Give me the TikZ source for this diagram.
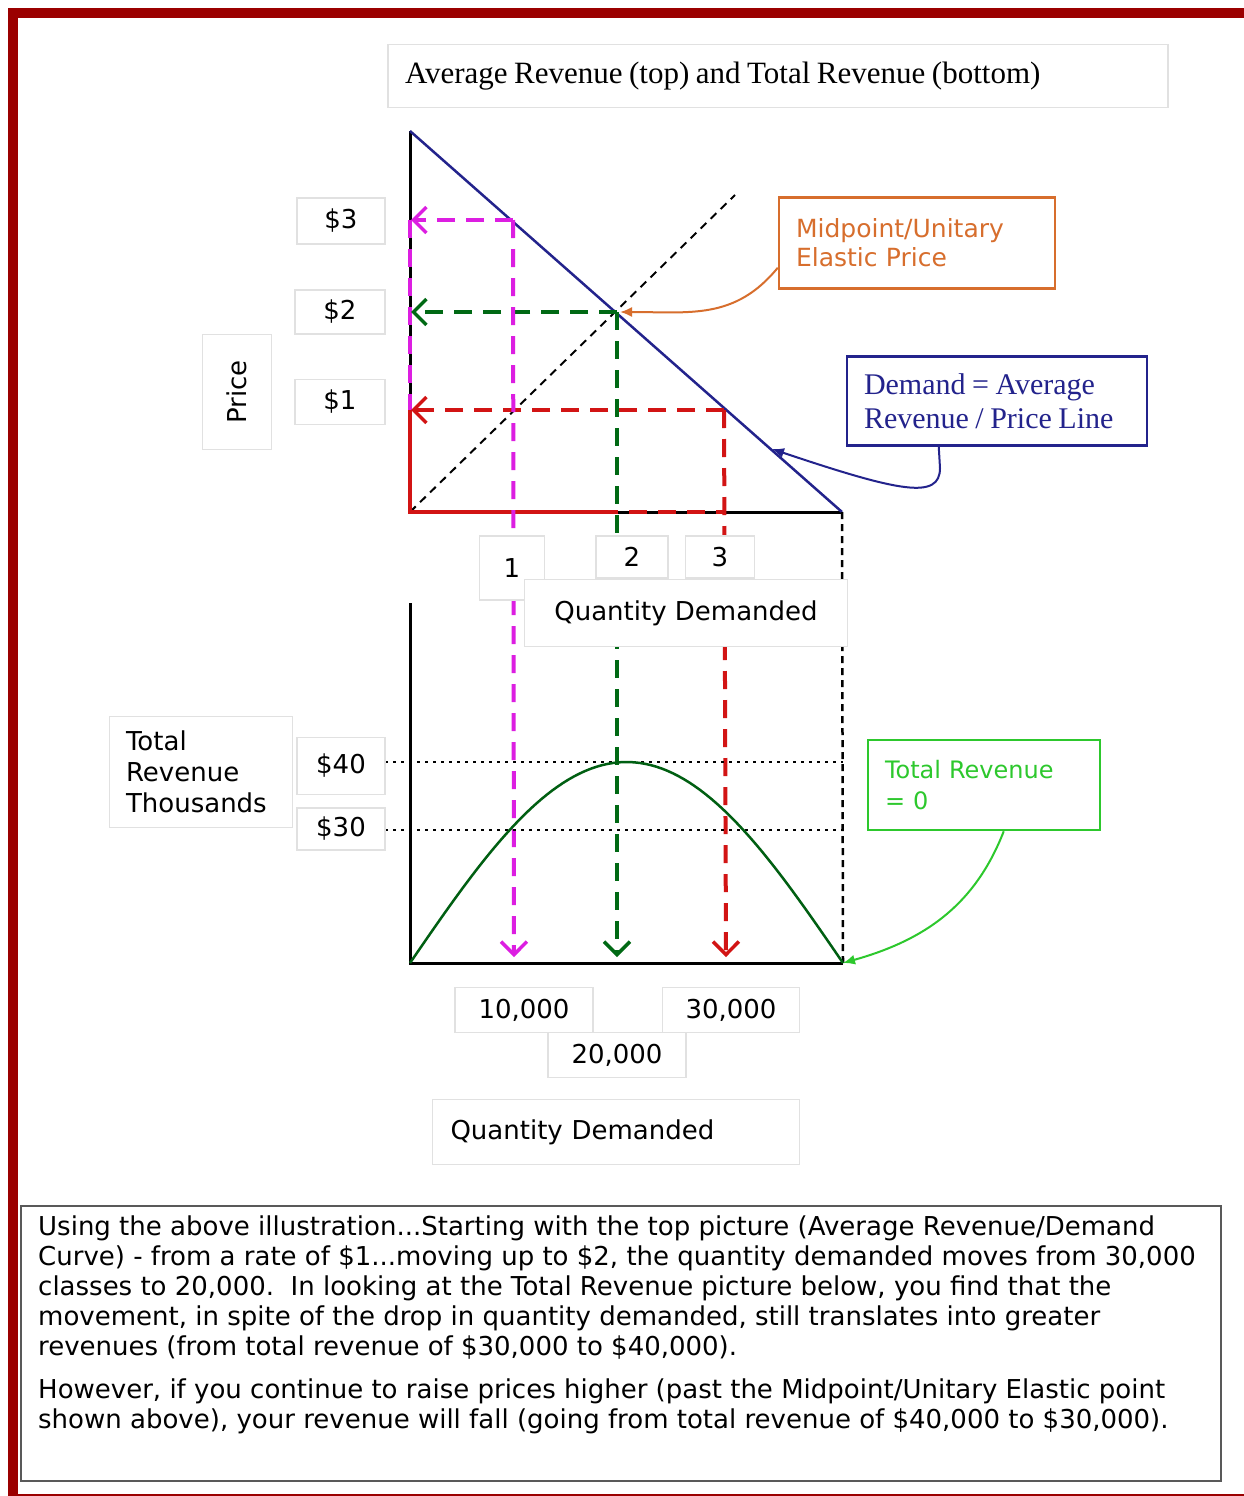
\documentclass[tikz,border=0pt]{standalone}
\usepackage{fontspec}
\setmainfont{Liberation Serif}
\newfontfamily\verd{DejaVu Sans}
\usetikzlibrary{calc}
\usetikzlibrary{positioning}
\usetikzlibrary{arrows.meta}

\definecolor{framered}{RGB}{155,0,0}
\definecolor{magentaline}{RGB}{220,30,225}
\definecolor{greenline}{RGB}{0,105,20}
\definecolor{redline}{RGB}{210,20,20}
\definecolor{demandblue}{RGB}{35,35,140}
\definecolor{midorange}{RGB}{215,110,45}
\definecolor{zerogreen}{RGB}{45,200,45}
\definecolor{tickgray}{RGB}{225,225,225}

\begin{document}
\begin{tikzpicture}[%
  x=1pt, y=-1pt,
  >={Straight Barb[length=13pt,width=26pt,line width=3.5pt]},
  axis/.style={line width=3pt, black},
  guide/.style={line width=4pt, dash pattern=on 18pt off 11pt},
  tick/.style={draw=tickgray, line width=1.5pt, fill=white, inner sep=0pt,
    font=\verd\fontsize{26}{31}\selectfont},
  callout/.style={line width=2.5pt, inner xsep=17pt, inner ysep=0pt, align=left},
  calltip/.style={-{Latex[length=12pt,width=10pt]}, line width=2pt},
]

  \useasboundingbox (0,0) rectangle (1244,1496);
  \fill[white] (0,0) rectangle (1244,1496);

  % top graph: average revenue
  \coordinate (O1) at (410,512);
  \coordinate (Y1) at (410,131);
  \coordinate (X1) at (842,512);
  \coordinate (pm) at (513,220);
  \coordinate (pg) at (617,312);
  \coordinate (pr) at (724,410);
  \coordinate (diag) at (735,195);

  % bottom graph: total revenue
  \coordinate (O2) at (410,963);
  \coordinate (Y2) at (410,603);
  \coordinate (X2) at (843,963);
  \coordinate (qm) at (514,957);
  \coordinate (qg) at (617,957);
  \coordinate (qr) at (726,957);

  \draw[axis] (Y1) -- (O1) -- (X1);
  \draw[axis] (Y2) -- (O2) -- (X2);
  \draw[line width=2.5pt, demandblue] (Y1) -- (X1);
  \draw[line width=2pt, dash pattern=on 8pt off 6pt] (O1) -- (diag);

  % revenue rectangles along the axes
  \draw[guide, magentaline] (410,220) -- (410,410);
  \draw[line width=4pt, redline] (410,410) -- (O1) -- (600,512);
  \draw[guide, redline] (600,512) -- (724,512);

  \draw[guide, magentaline, ->] (pm) -- (411,220);
  \draw[guide, greenline, ->] (pg) -- (411,312);
  \draw[guide, redline, ->] (pr) -- (411,410);

  \draw[guide, magentaline, ->] (pm) -- (qm);
  \draw[guide, greenline, ->] (pg) -- (qg);
  \draw[guide, redline, ->] (pr) -- (qr);

  \draw[line width=2.5pt, dash pattern=on 7pt off 5pt] (X1) -- (X2);

  \draw[line width=2pt, dash pattern=on 3pt off 5pt] (385,762) -- (843,762);
  \draw[line width=2pt, dash pattern=on 3pt off 5pt] (385,830) -- (843,830);

  \draw[line width=2.5pt, greenline!90!black]
    plot[domain=0:180, samples=80] ({410+2.4056*\x},{963-201*sin(\x)});

  % axis labels
  \node[tick, minimum width=780, minimum height=63, text width=746, align=left,
    font=\fontsize{31}{34}\selectfont] (title) at (778,76)
    {\spaceskip=6.5pt Average Revenue (top) and Total Revenue (bottom)};

  \node[tick, minimum width=88, minimum height=46] (p3) at (341,221) {\$3};
  \node[tick, minimum width=90, minimum height=44] (p2) at (340,312) {\$2};
  \node[tick, minimum width=90, minimum height=45] (p1) at (340,402) {\$1};
  \node[tick, minimum width=115, minimum height=69, rotate=90] (price) at (237,392) {Price};

  \node[tick, minimum width=65, minimum height=64] (q1) at (512,568) {1};
  \node[tick, minimum width=72, minimum height=42] (q2) at (632,557) {2};
  \node[tick, minimum width=69, minimum height=42] (q3) at (720,557) {3};
  \node[tick, minimum width=323, minimum height=67] (qd1) at (686,613) {Quantity Demanded};

  \node[tick, minimum width=183, minimum height=111, text width=150, align=left] (trlab)
    at (201,772) {Total\\Revenue\\Thousands};
  \node[tick, minimum width=88, minimum height=57] (r40) at (341,766) {\$40};
  \node[tick, minimum width=88, minimum height=42] (r30) at (341,829) {\$30};

  \node[tick, minimum width=138, minimum height=45] (t10) at (524,1010) {10,000};
  \node[tick, minimum width=137, minimum height=45] (t30) at (731,1010) {30,000};
  \node[tick, minimum width=138, minimum height=45] (t20) at (617,1055) {20,000};
  \node[tick, minimum width=367, minimum height=65, text width=331, align=left] (qd2)
    at (616,1132) {Quantity Demanded};

  % callouts
  \node[callout, draw=midorange, text=midorange, minimum width=276, minimum height=91,
    text width=242, font=\verd\fontsize{25}{29}\selectfont] (midbox) at (917,243)
    {Midpoint/Unitary\\Elastic Price};
  \node[callout, draw=demandblue, text=demandblue, minimum width=300, minimum height=89,
    text width=266, font=\fontsize{30}{34}\selectfont] (dembox) at (997,401)
    {\spaceskip=6.5pt Demand = Average\\Revenue / Price Line};
  \node[callout, draw=zerogreen, text=zerogreen, minimum width=232, minimum height=90,
    text width=198, font=\verd\fontsize{24}{31}\selectfont] (zerobox) at (984,785)
    {Total Revenue\\= 0};

  \coordinate (unit) at (620,312);
  \coordinate (dempt) at (772,449);

  \draw[calltip, midorange] ($(midbox.south west)+(0,-22)$)
    .. controls (735,320) and (690,312) .. (unit);
  \draw[calltip, demandblue] ($(dembox.south west)+(93,0)$) -- (940,468)
    .. controls (940,500) and (900,492) .. (dempt);
  \draw[calltip, zerogreen] ($(zerobox.south west)+(137,0)$)
    .. controls (975,905) and (925,940) .. (X2);

  % explanation
  \node[draw=black!65, line width=2pt, minimum width=1200, minimum height=275,
    anchor=north west, inner sep=0pt] (notebox) at (20,1205) {};
  \node[anchor=north west, inner sep=0pt, align=left,
    font=\verd\fontsize{26}{30}\selectfont] (note) at (38,1216)
    {Using the above illustration...Starting with the top picture (Average Revenue/Demand\\
     Curve) - from a rate of \$1...moving up to \$2, the quantity demanded moves from 30,000\\
     classes to 20,000.\ \ In looking at the Total Revenue picture below, you find that the\\
     movement, in spite of the drop in quantity demanded, still translates into greater\\
     revenues (from total revenue of \$30,000 to \$40,000).\\[13pt]
     However, if you continue to raise prices higher (past the Midpoint/Unitary Elastic point\\
     shown above), your revenue will fall (going from total revenue of \$40,000 to \$30,000).};

  \draw[framered, line width=10pt] (13,13) rectangle (1249,1499);

\end{tikzpicture}
\end{document}
